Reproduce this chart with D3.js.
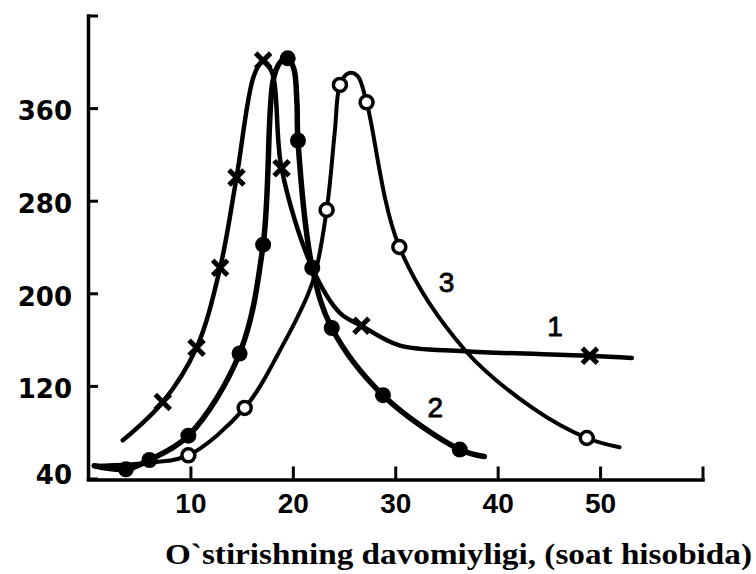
<!DOCTYPE html>
<html>
<head>
<meta charset="utf-8">
<script src="https://cdn.jsdelivr.net/npm/d3@7"></script>
<style>
  html, body { margin: 0; padding: 0; background: #fff; }
  svg { display: block; }
</style>
</head>
<body>
<svg id="chart" width="756" height="574"></svg>
<script>
// ---- data ----
const xTicks = [10, 20, 30, 40, 50, 60];
const xTickLabels = ["10", "20", "30", "40", "50", ""];
const yTicks = [40, 120, 200, 280, 360, 440];
const yTickLabels = ["40", "120", "200", "280", "360", ""];
const xTitle = "O`stirishning davomiyligi, (soat hisobida)";

// [hours, value, hasMarker]
const curve1 = [
  [3.4, 73, 0], [7.3, 106, 1], [10.6, 153, 1], [12.9, 222, 1], [14.5, 300, 1],
  [16.2, 388, 0], [17.1, 401, 1], [18.0, 390, 0], [18.9, 308, 1], [21.9, 222, 0],
  [24.6, 183, 0], [26.7, 172, 1], [30.4, 155, 0], [36.8, 150, 0], [49.0, 146, 1],
  [53.1, 144, 0]
];
const curve2 = [
  [0.6, 51, 0], [3.7, 48, 1], [6.0, 56, 1], [9.8, 77, 1], [14.8, 148, 1],
  [17.1, 242, 1], [18.1, 385, 0], [18.8, 400, 0], [19.5, 403, 1], [20.1, 394, 0],
  [20.4, 365, 0], [20.5, 332, 1],
  [21.9, 222, 1], [23.8, 170, 1], [28.8, 112, 1], [36.3, 65, 1], [38.7, 59, 0]
];
const curve3 = [
  [0.6, 51, 0], [6.5, 54, 0], [9.8, 60, 1], [15.3, 101, 1], [18.7, 150, 0],
  [21.9, 209, 0], [23.3, 272, 1], [24.1, 340, 0], [24.6, 380, 1], [25.4, 390, 0],
  [26.3, 388, 0], [27.2, 365, 1], [30.4, 240, 1], [36.8, 151, 0], [43.4, 101, 0],
  [48.7, 75, 1], [51.9, 67, 0]
];
const curveNames = ["1", "2", "3"];
const curveMarkers = ["cross", "dot", "ring"];
const curveLabelAt = [[45.6, 171], [33.9, 101], [35.0, 209]];

// ---- layout ----
const svg = d3.select("#chart");
const x = d3.scaleLinear().domain([0, 60]).range([88, 702.5]);
const y = d3.scaleLinear().domain([40, 440]).range([478.5, 15.5]);
const axisY0 = 479.5;

// axes
const xAxis = d3.axisBottom(x)
  .tickValues(xTicks)
  .tickFormat((d, i) => xTickLabels[i])
  .tickSizeInner(-13).tickSizeOuter(0).tickPadding(14);
const gx = svg.append("g").attr("transform", `translate(0,${axisY0})`).call(xAxis);
gx.selectAll("text")
  .attr("font-family", "'Liberation Sans', Arial, sans-serif")
  .attr("font-weight", "bold").attr("font-size", 28).attr("fill", "#000");

const yAxis = d3.axisLeft(y)
  .tickValues(yTicks)
  .tickFormat((d, i) => yTickLabels[i])
  .tickSizeInner(-10).tickSizeOuter(0).tickPadding(16);
const gy = svg.append("g").attr("transform", `translate(88,0)`).call(yAxis);
gy.selectAll("text")
  .attr("font-family", "'DejaVu Sans', sans-serif")
  .attr("font-weight", "bold").attr("font-size", 26).attr("fill", "#000")
  .attr("dy", "0.45em");
gy.selectAll(".tick").filter(d => d === 40).select("text").attr("dy", "0.2em");

[gx, gy].forEach(g => {
  g.select(".domain").attr("stroke", "#000").attr("stroke-width", 3.5).attr("stroke-linecap", "square");
  g.selectAll(".tick line").attr("stroke", "#000").attr("stroke-width", 3);
});

// curves
const line = d3.line()
  .x(d => x(d[0])).y(d => y(d[1]))
  .curve(d3.curveCatmullRom.alpha(0.5));
const curves = [curve1, curve2, curve3];
const widths = [4.5, 5.5, 4];

curves.forEach((c, i) => {
  svg.append("path").datum(c)
    .attr("d", line)
    .attr("fill", "none").attr("stroke", "#000")
    .attr("stroke-width", widths[i])
    .attr("stroke-linecap", "round").attr("stroke-linejoin", "round");
});

curves.forEach((c, i) => {
  const pts = c.filter(d => d[2] === 1);
  const kind = curveMarkers[i];
  const g = svg.append("g");
  if (kind === "cross") {
    const s = 7.5;
    pts.forEach(d => {
      const cx = x(d[0]), cy = y(d[1]);
      g.append("path")
        .attr("d", `M${cx - s},${cy - s}L${cx + s},${cy + s}M${cx - s},${cy + s}L${cx + s},${cy - s}`)
        .attr("stroke", "#000").attr("stroke-width", 5).attr("stroke-linecap", "butt");
    });
  } else if (kind === "dot") {
    g.selectAll("circle").data(pts).join("circle")
      .attr("cx", d => x(d[0])).attr("cy", d => y(d[1])).attr("r", 8)
      .attr("fill", "#000");
  } else {
    g.selectAll("circle").data(pts).join("circle")
      .attr("cx", d => x(d[0])).attr("cy", d => y(d[1])).attr("r", 6.5)
      .attr("fill", "#fff").attr("stroke", "#000").attr("stroke-width", 3.5);
  }
});

// curve numbers
curveNames.forEach((n, i) => {
  svg.append("text")
    .attr("x", x(curveLabelAt[i][0])).attr("y", y(curveLabelAt[i][1]))
    .attr("text-anchor", "middle").attr("dominant-baseline", "central")
    .attr("font-family", "'Liberation Sans', Arial, sans-serif")
    .attr("font-size", 28).attr("fill", "#000")
    .attr("stroke", "#000").attr("stroke-width", 0.8)
    .text(n);
});

// axis title
svg.append("text")
  .attr("x", 165).attr("y", 564)
  .attr("font-family", "'Liberation Serif', 'Times New Roman', serif")
  .attr("font-weight", "bold").attr("font-size", 29).attr("fill", "#000")
  .attr("textLength", 587).attr("lengthAdjust", "spacingAndGlyphs")
  .text(xTitle);
</script>
</body>
</html>
